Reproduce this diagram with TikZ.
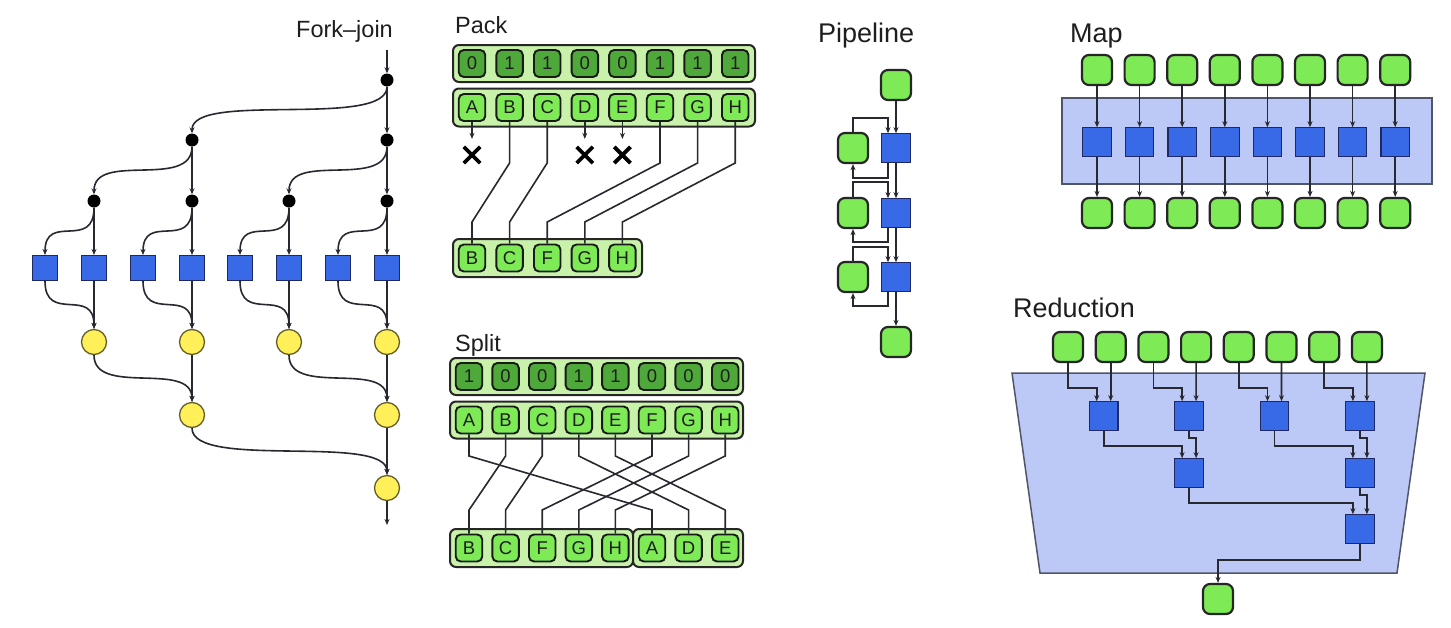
\documentclass[tikz,border=0pt]{standalone}
\usepackage{fontspec}
\setmainfont{Liberation Sans}
\usetikzlibrary{arrows.meta,shapes.misc,calc}
\definecolor{gfill}{RGB}{125,234,86}
\definecolor{gdark}{RGB}{78,168,58}
\definecolor{glight}{RGB}{200,242,170}
\definecolor{bfill}{RGB}{56,106,232}
\definecolor{bdraw}{RGB}{30,40,100}
\definecolor{bgblue}{RGB}{188,200,245}
\definecolor{bgline}{RGB}{80,85,105}
\definecolor{yfill}{RGB}{255,240,90}
\definecolor{ydraw}{RGB}{100,95,40}
\definecolor{wirec}{RGB}{40,40,48}
\definecolor{txt}{RGB}{30,30,30}
\tikzset{
 wire/.style={draw=wirec, line width=1.6pt},
 arr/.style={wire, -{Stealth[length=6pt,width=5pt]}},
 gnode/.style={draw=black!85, fill=gfill, line width=2.2pt, rounded corners=7pt, minimum width=30pt, minimum height=30pt, inner sep=0pt},
 bsq/.style={draw=bdraw, fill=bfill, line width=1.1pt, minimum width=28.5pt, minimum height=28.5pt, inner sep=0pt},
 fsq/.style={bsq, minimum width=25pt, minimum height=25pt},
 ycirc/.style={circle, draw=ydraw, fill=yfill, line width=1.3pt, minimum size=25pt, inner sep=0pt},
 bdot/.style={circle, fill=black, minimum size=13pt, inner sep=0pt},
 cont/.style={draw=black!85, fill=glight, line width=2pt, rounded corners=6pt, inner sep=0pt},
 cellD/.style={draw=black!90, fill=gdark, line width=1.9pt, rounded corners=5pt, minimum width=26.5pt, minimum height=27pt, inner sep=0pt, font=\fontsize{18.5}{18.5}\selectfont, text=txt},
 cellL/.style={cellD, fill=gfill},
 title/.style={font=\fontsize{23.5}{23.5}\selectfont, text=txt, inner sep=0pt},
 titleb/.style={font=\fontsize{27}{27}\selectfont, text=txt, inner sep=0pt},
 xmark/.style={cross out, draw=black, line width=3.8pt, minimum size=12.5pt, inner sep=0pt},
}
\begin{document}
\begin{tikzpicture}[x=1pt,y=-1pt]
\fill[white] (0,0) rectangle (1451,627);
\useasboundingbox (0,0) rectangle (1451,627);

% ---------------- titles
\node[title, anchor=base east] (tfj) at (393,37) {Fork--join};
\node[title, anchor=base west] (tpack) at (455,33) {Pack};
\node[title, anchor=base west] (tsplit) at (455,351) {Split};
\node[titleb, anchor=base west] (tpipe) at (818,42) {Pipeline};
\node[titleb, anchor=base west] (tmap) at (1070,42) {Map};
\node[titleb, anchor=base west] (tred) at (1013,317) {Reduction};

% ---------------- Fork-join
\node[bdot] (d0) at (387,80) {};
\node[bdot] (d1a) at (192,140) {};
\node[bdot] (d1b) at (387,140) {};
\node[bdot] (d2a) at (94,201) {};
\node[bdot] (d2b) at (192,201) {};
\node[bdot] (d2c) at (289,201) {};
\node[bdot] (d2d) at (387,201) {};
\foreach \x [count=\i] in {45,94,143,192,240,289,338,387}
  \node[fsq] (fs\i) at (\x,268) {};
\node[ycirc] (c1a) at (94,342) {};
\node[ycirc] (c1b) at (192,342) {};
\node[ycirc] (c1c) at (289,342) {};
\node[ycirc] (c1d) at (387,342) {};
\node[ycirc] (c2a) at (192,415) {};
\node[ycirc] (c2b) at (387,415) {};
\node[ycirc] (c3) at (387,488) {};
\coordinate (fin) at (387,50);
\coordinate (fout) at (387,525);

\draw[arr] (fin) -- (d0);
\draw[arr] (d0) -- (d1b);
\draw[arr] (d0) .. controls +(0,49) and +(0,-49) .. (d1a);
\draw[arr] (d1a) -- (d2b);
\draw[arr] (d1a) .. controls +(0,50) and +(0,-50) .. (d2a);
\draw[arr] (d1b) -- (d2d);
\draw[arr] (d1b) .. controls +(0,50) and +(0,-50) .. (d2c);
\foreach \d/\l/\r in {d2a/fs1/fs2, d2b/fs3/fs4, d2c/fs5/fs6, d2d/fs7/fs8} {
  \draw[arr] (\d) -- (\r);
  \draw[arr] (\d) .. controls +(0,50) and +(0,-56) .. (\l);
}
\foreach \l/\r/\c in {fs1/fs2/c1a, fs3/fs4/c1b, fs5/fs6/c1c, fs7/fs8/c1d} {
  \draw[arr] (\r) -- (\c);
  \draw[arr] (\l) .. controls +(0,56) and +(0,-56) .. (\c);
}
\draw[arr] (c1b) -- (c2a);
\draw[arr] (c1a) .. controls +(0,55) and +(0,-55) .. (c2a);
\draw[arr] (c1d) -- (c2b);
\draw[arr] (c1c) .. controls +(0,55) and +(0,-55) .. (c2b);
\draw[arr] (c2b) -- (c3);
\draw[arr] (c2a) .. controls +(0,55) and +(0,-55) .. (c3);
\draw[arr] (c3) -- (fout);

% ---------------- Pack
\node[cont, minimum width=302pt, minimum height=37pt] (pcont1) at (604,63.5) {};
\node[cont, minimum width=302pt, minimum height=38pt] (pcont2) at (604,107.5) {};
\node[cont, minimum width=189pt, minimum height=38pt] (pcont3) at (547.5,258) {};
\foreach \d [count=\i from 0] in {0,1,1,0,0,1,1,1}
  \node[cellD] (pt\i) at (472+37.6*\i,63.5) {\d};
\foreach \l [count=\i from 0] in {A,B,C,D,E,F,G,H}
  \node[cellL] (p\l) at (472+37.6*\i,107.5) {\l};
\foreach \l [count=\i from 0] in {B,C,F,G,H}
  \node[cellL] (q\l) at (472+37.6*\i,258) {\l};
\coordinate (pk1) at (0,163);
\coordinate (pk2) at (0,222);
\coordinate (xy) at (0,155);
\foreach \l in {B,C,F,G,H}
  \draw[wire] (p\l.south) -- (p\l.south |- pk1) -- (q\l.north |- pk2) -- (q\l.north);
\foreach \l in {A,D,E} {
  \node[xmark] (x\l) at (p\l.south |- xy) {};
  \draw[arr, shorten >=8pt] (p\l.south) -- (x\l.north);
}

% ---------------- Split
\node[cont, minimum width=293pt, minimum height=37pt] (scont1) at (596.5,376.5) {};
\node[cont, minimum width=293pt, minimum height=37pt] (scont2) at (596.5,420) {};
\node[cont, minimum width=183pt, minimum height=38pt] (scont3) at (541.5,548) {};
\node[cont, minimum width=110pt, minimum height=38pt] (scont4) at (688,548) {};
\foreach \d [count=\i from 0] in {1,0,0,1,1,0,0,0}
  \node[cellD] (st\i) at (469+36.6*\i,376.5) {\d};
\foreach \l [count=\i from 0] in {A,B,C,D,E,F,G,H}
  \node[cellL] (s\l) at (469+36.6*\i,420) {\l};
\foreach \l [count=\i from 0] in {B,C,F,G,H,A,D,E}
  \node[cellL] (u\l) at (469+36.6*\i,548) {\l};
\coordinate (sp1) at (0,456);
\coordinate (sp2) at (0,510);
\foreach \l in {A,B,C,D,E,F,G,H}
  \draw[wire] (s\l.south) -- (s\l.south |- sp1) -- (u\l.north |- sp2) -- (u\l.north);

% ---------------- Pipeline
\node[gnode] (g0) at (896,85) {};
\node[bsq] (b1) at (896,148) {};
\node[bsq] (b2) at (896,213) {};
\node[bsq] (b3) at (896,277) {};
\node[gnode] (l1) at (853,148) {};
\node[gnode] (l2) at (853,213) {};
\node[gnode] (l3) at (853,277) {};
\node[gnode] (g4) at (896,342) {};
\draw[arr] (g0) -- (b1);
\draw[arr] (b1) -- (b2);
\draw[arr] (b2) -- (b3);
\draw[arr] (b3) -- (g4);
\draw[arr] (l1.north) -- ++(0,-14) -| ([xshift=-8pt]b1.north);
\draw[arr] ([xshift=-8pt]b1.south) -- ++(0,15) -| (l1.south);
\draw[arr] (l2.north) -- ++(0,-15) -| ([xshift=-8pt]b2.north);
\draw[arr] ([xshift=-8pt]b2.south) -- ++(0,14) -| (l2.south);
\draw[arr] (l3.north) -- ++(0,-14) -| ([xshift=-8pt]b3.north);
\draw[arr] ([xshift=-8pt]b3.south) -- ++(0,14) -| (l3.south);

% ---------------- Map
\draw[draw=bgline, fill=bgblue, line width=1.5pt] (1062,98) rectangle (1432,184);
\foreach \i in {0,...,7} {
  \node[gnode] (mt\i) at (1097+42.6*\i,70) {};
  \node[bsq] (mb\i) at (1097+42.6*\i,142) {};
  \node[gnode] (mo\i) at (1097+42.6*\i,213) {};
  \draw[arr] (mt\i) -- (mb\i);
  \draw[arr] (mb\i) -- (mo\i);
}

% ---------------- Reduction
\draw[draw=bgline, fill=bgblue, line width=1.5pt] (1012,373) -- (1425,373) -- (1397,573) -- (1040,573) -- cycle;
\foreach \i in {1,...,8}
  \node[gnode] (rt\i) at (1068+42.7*\i-42.7,347) {};
\node[bsq] (ra1) at (1103.7,416) {};
\node[bsq] (ra2) at (1189.1,416) {};
\node[bsq] (ra3) at (1274.5,416) {};
\node[bsq] (ra4) at (1359.9,416) {};
\node[bsq] (rb1) at (1189.1,473) {};
\node[bsq] (rb2) at (1359.9,473) {};
\node[bsq] (rc) at (1359.9,529) {};
\node[gnode] (rout) at (1218,599) {};
\coordinate (ry1) at (0,388);
\foreach \a/\b/\s in {rt1/rt2/ra1, rt3/rt4/ra2, rt5/rt6/ra3, rt7/rt8/ra4} {
  \draw[arr] (\a.south) -- (\a.south |- ry1) -| ([xshift=-7pt]\s.north);
  \draw[arr] (\b.south) -- ([xshift=7pt]\s.north);
}
\draw[arr] (ra1.south) -- ++(0,15) -| ([xshift=-7pt]rb1.north);
\draw[arr] (ra2.south) -- ++(0,7) -| ([xshift=7pt]rb1.north);
\draw[arr] (ra3.south) -- ++(0,15) -| ([xshift=-7pt]rb2.north);
\draw[arr] (ra4.south) -- ++(0,7) -| ([xshift=7pt]rb2.north);
\draw[arr] (rb1.south) -- ++(0,15) -| ([xshift=-7pt]rc.north);
\draw[arr] (rb2.south) -- ++(0,7) -| ([xshift=7pt]rc.north);
\draw[arr] (rc.south) -- ++(0,16) -| (rout.north);
\end{tikzpicture}
\end{document}
